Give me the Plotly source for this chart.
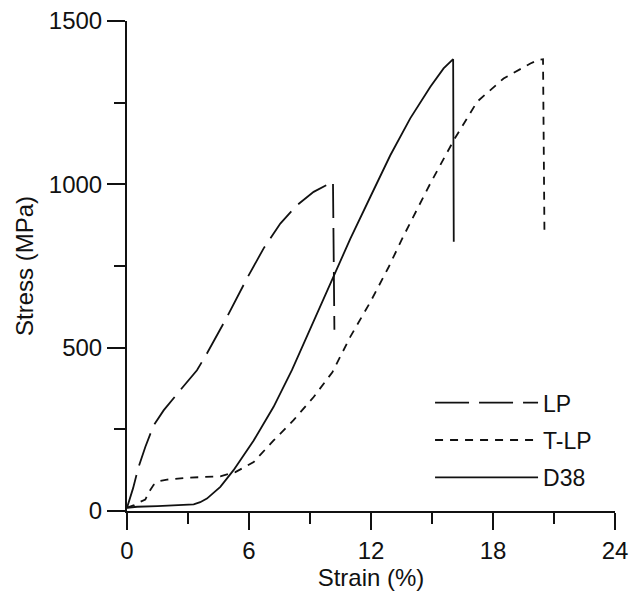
import plotly.graph_objects as go

# ---- data ----
lp_strain = [0, 0.3, 0.57, 0.9, 1.31, 1.8, 2.62, 3.44, 3.93, 4.92, 5.9, 6.72, 7.54, 8.36, 9.18, 9.67, 10.13, 10.2]
lp_stress = [10, 70, 135, 196, 262, 308, 370, 431, 482, 594, 712, 804, 880, 936, 977, 992, 1008, 555]

tlp_strain = [0, 0.35, 0.65, 0.9, 1.1, 1.31, 1.6, 1.97, 2.95, 3.77, 4.59, 5.33, 6.23, 7.21, 8.19, 9.18,
              10.1, 10.98, 11.97, 12.87, 13.6, 14.92, 16.07, 17.22, 18.52, 19.84, 20.2, 20.46, 20.53]
tlp_stress = [10, 18, 28, 35, 60, 80, 92, 96, 102, 104, 106, 119, 150, 216, 278, 349,
              425, 533, 640, 747, 842, 1003, 1135, 1253, 1324, 1370, 1380, 1383, 855]

d38_strain = [0, 0.5, 1.5, 2.5, 3.28, 3.6, 3.93, 4.59, 5.24, 6.23, 7.21, 8.11, 9.1, 10.16, 10.98,
              11.97, 12.95, 13.93, 14.92, 15.57, 16.04, 16.07]
d38_stress = [10, 13, 15, 17, 20, 27, 38, 74, 125, 216, 319, 431, 570, 717, 833,
              962, 1089, 1202, 1299, 1355, 1383, 824]

x_ticks = [0, 6, 12, 18, 24]
y_ticks = [0, 500, 1000, 1500]

FONT = "Liberation Sans, Arial, sans-serif"
INK = "#111111"

fig = go.Figure()
fig.add_trace(go.Scatter(x=lp_strain, y=lp_stress, mode="lines", name="LP", legendgroup="a",
                         line=dict(color=INK, width=1.8, dash="34px,10px")))
fig.add_trace(go.Scatter(x=tlp_strain, y=tlp_stress, mode="lines", name="T-LP", legendgroup="b",
                         line=dict(color=INK, width=1.8, dash="8px,7px")))
fig.add_trace(go.Scatter(x=d38_strain, y=d38_stress, mode="lines", name="D38", legendgroup="c",
                         line=dict(color=INK, width=1.8)))

axis_common = dict(showline=True, linewidth=2, linecolor=INK, ticks="outside", tickwidth=2,
                   tickcolor=INK, showgrid=False, zeroline=False, automargin=False,
                   ticklabeloverflow="allow",
                   tickfont=dict(family=FONT, size=24, color=INK))

fig.update_xaxes(range=[0, 24], tickvals=x_ticks, ticklen=17,
                 minor=dict(ticks="outside", ticklen=11, tickwidth=2, tickcolor=INK, dtick=3, tick0=0, showgrid=False),
                 title=dict(text="Strain (%)", font=dict(family=FONT, size=24, color=INK), standoff=4),
                 **axis_common)
fig.update_yaxes(range=[0, 1500], tickvals=y_ticks, ticklen=18,
                 minor=dict(ticks="outside", ticklen=11, tickwidth=2, tickcolor=INK, dtick=250, tick0=0, showgrid=False),
                 title=dict(text="Stress (MPa)", font=dict(family=FONT, size=24, color=INK), standoff=8),
                 **axis_common)

fig.update_layout(
    width=630, height=596,
    margin=dict(l=127, r=15, t=21, b=85),
    paper_bgcolor="white", plot_bgcolor="white",
    showlegend=True,
    legend=dict(x=0.621, y=0.265, xanchor="left", yanchor="top", bgcolor="rgba(0,0,0,0)",
                font=dict(family=FONT, size=23, color=INK), itemwidth=103, tracegroupgap=4.5),
)

# remove the default 8px page margin so the figure fills the window exactly
fig.write_html("out.html", config={"displayModeBar": False},
               post_script="document.body.style.margin='0';")
